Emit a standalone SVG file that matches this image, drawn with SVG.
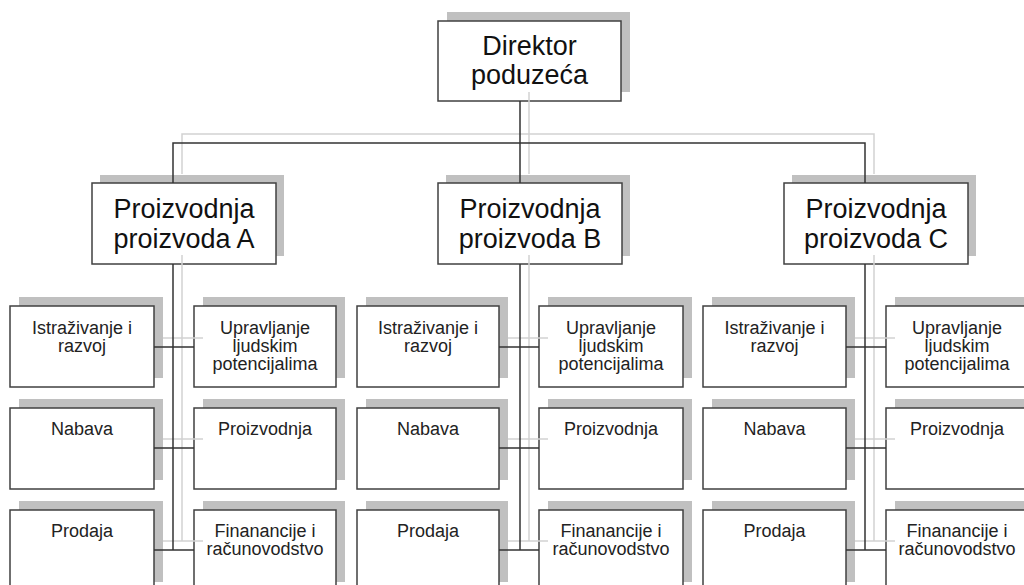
<svg xmlns="http://www.w3.org/2000/svg" width="1024" height="585" viewBox="0 0 1024 585">
<style>
.sh{fill:#c0c0c0;stroke:none}
.bx{fill:#fff;stroke:#404040;stroke-width:1.5}
.t1{font-family:"Liberation Sans",Arial,sans-serif;font-size:27px;fill:#111;text-anchor:middle}
.t2{font-family:"Liberation Sans",Arial,sans-serif;font-size:18px;fill:#222;text-anchor:middle}
.cl{fill:none;stroke:#d2d2d2;stroke-width:1.5}
.cd{fill:none;stroke:#333;stroke-width:1.5}
</style>
<rect width="1024" height="585" fill="#fff"/>
<g id="nodes">
<g id="direktor"><rect class="sh" x="447" y="12" width="183" height="80"/><rect class="bx" x="438" y="21" width="183" height="80"/><text class="t1" x="529.5" y="55">Direktor</text><text class="t1" x="529.5" y="84">poduzeća</text></g>
<g id="prodA"><rect class="sh" x="100" y="175" width="184" height="81"/><rect class="bx" x="92" y="183" width="184" height="81"/><text class="t1" x="184" y="218">Proizvodnja</text><text class="t1" x="184" y="248">proizvoda A</text></g>
<g id="prodB"><rect class="sh" x="446" y="175" width="184" height="81"/><rect class="bx" x="438" y="183" width="184" height="81"/><text class="t1" x="530" y="218">Proizvodnja</text><text class="t1" x="530" y="248">proizvoda B</text></g>
<g id="prodC"><rect class="sh" x="792" y="175" width="184" height="81"/><rect class="bx" x="784" y="183" width="184" height="81"/><text class="t1" x="876" y="218">Proizvodnja</text><text class="t1" x="876" y="248">proizvoda C</text></g>

<g id="A-istr"><rect class="sh" x="19" y="297" width="144" height="81"/><rect class="bx" x="10" y="306" width="144" height="81"/><text class="t2" x="82" y="334">Istraživanje i</text><text class="t2" x="82" y="352">razvoj</text></g>
<g id="A-uprav"><rect class="sh" x="203" y="297" width="142" height="81"/><rect class="bx" x="194" y="306" width="142" height="81"/><text class="t2" x="265" y="334">Upravljanje</text><text class="t2" x="265" y="352">ljudskim</text><text class="t2" x="265" y="370">potencijalima</text></g>
<g id="A-nabava"><rect class="sh" x="19" y="399" width="144" height="81"/><rect class="bx" x="10" y="408" width="144" height="81"/><text class="t2" x="82" y="435">Nabava</text></g>
<g id="A-proizv"><rect class="sh" x="203" y="399" width="142" height="81"/><rect class="bx" x="194" y="408" width="142" height="81"/><text class="t2" x="265" y="435">Proizvodnja</text></g>
<g id="A-prodaja"><rect class="sh" x="19" y="501" width="144" height="81"/><rect class="bx" x="10" y="510" width="144" height="81"/><text class="t2" x="82" y="537">Prodaja</text></g>
<g id="A-fin"><rect class="sh" x="203" y="501" width="142" height="81"/><rect class="bx" x="194" y="510" width="142" height="81"/><text class="t2" x="265" y="537">Finanancije i</text><text class="t2" x="265" y="555">računovodstvo</text></g>

<g id="B-istr"><rect class="sh" x="366" y="297" width="142" height="81"/><rect class="bx" x="357" y="306" width="142" height="81"/><text class="t2" x="428" y="334">Istraživanje i</text><text class="t2" x="428" y="352">razvoj</text></g>
<g id="B-uprav"><rect class="sh" x="548" y="297" width="144" height="81"/><rect class="bx" x="539" y="306" width="144" height="81"/><text class="t2" x="611" y="334">Upravljanje</text><text class="t2" x="611" y="352">ljudskim</text><text class="t2" x="611" y="370">potencijalima</text></g>
<g id="B-nabava"><rect class="sh" x="366" y="399" width="142" height="81"/><rect class="bx" x="357" y="408" width="142" height="81"/><text class="t2" x="428" y="435">Nabava</text></g>
<g id="B-proizv"><rect class="sh" x="548" y="399" width="144" height="81"/><rect class="bx" x="539" y="408" width="144" height="81"/><text class="t2" x="611" y="435">Proizvodnja</text></g>
<g id="B-prodaja"><rect class="sh" x="366" y="501" width="142" height="81"/><rect class="bx" x="357" y="510" width="142" height="81"/><text class="t2" x="428" y="537">Prodaja</text></g>
<g id="B-fin"><rect class="sh" x="548" y="501" width="144" height="81"/><rect class="bx" x="539" y="510" width="144" height="81"/><text class="t2" x="611" y="537">Finanancije i</text><text class="t2" x="611" y="555">računovodstvo</text></g>

<g id="C-istr"><rect class="sh" x="712" y="297" width="143" height="81"/><rect class="bx" x="703" y="306" width="143" height="81"/><text class="t2" x="774.5" y="334">Istraživanje i</text><text class="t2" x="774.5" y="352">razvoj</text></g>
<g id="C-uprav"><rect class="sh" x="895" y="297" width="144" height="81"/><rect class="bx" x="886" y="306" width="144" height="81"/><text class="t2" x="957" y="334">Upravljanje</text><text class="t2" x="957" y="352">ljudskim</text><text class="t2" x="957" y="370">potencijalima</text></g>
<g id="C-nabava"><rect class="sh" x="712" y="399" width="143" height="81"/><rect class="bx" x="703" y="408" width="143" height="81"/><text class="t2" x="774.5" y="435">Nabava</text></g>
<g id="C-proizv"><rect class="sh" x="895" y="399" width="144" height="81"/><rect class="bx" x="886" y="408" width="144" height="81"/><text class="t2" x="957" y="435">Proizvodnja</text></g>
<g id="C-prodaja"><rect class="sh" x="712" y="501" width="143" height="81"/><rect class="bx" x="703" y="510" width="143" height="81"/><text class="t2" x="774.5" y="537">Prodaja</text></g>
<g id="C-fin"><rect class="sh" x="895" y="501" width="144" height="81"/><rect class="bx" x="886" y="510" width="144" height="81"/><text class="t2" x="957" y="537">Finanancije i</text><text class="t2" x="957" y="555">računovodstvo</text></g>
</g>
<g id="connectors">
<path class="cl" d="M529,92V134M182,174V134H874V174M529,134V174"/>
<path class="cl" d="M182,255V541M163,338H203M163,439H203M163,541H203"/>
<path class="cl" d="M529,255V541M508,338H548M508,439H548M508,541H548"/>
<path class="cl" d="M874,255V541M855,338H895M855,439H895M855,541H895"/>
<path class="cd" d="M520,101V183M173,183V143H865V183"/>
<path class="cd" d="M173,264V550M154,347H194M154,448H194M154,550H194"/>
<path class="cd" d="M520,264V550M499,347H539M499,448H539M499,550H539"/>
<path class="cd" d="M865,264V550M846,347H886M846,448H886M846,550H886"/>
</g>
</svg>
